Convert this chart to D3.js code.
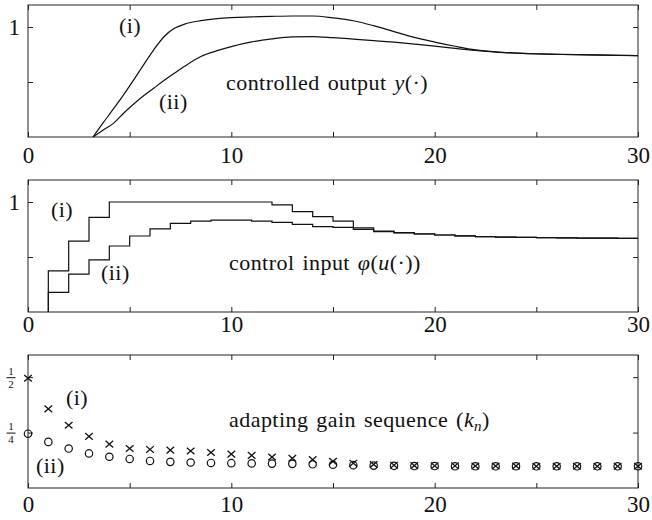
<!DOCTYPE html>
<html lang="en">
<head>
<meta charset="UTF-8">
<title>Adaptive control: output, input and gain sequence</title>
<script src="https://d3js.org/d3.v7.min.js"></script>
<style>
  body { margin: 0; background: #fff; }
  svg text { font-family: "Liberation Serif", "Times New Roman", serif; fill: #111; }
  .tick line, .frame { stroke: #222; }
  .domain { display: none; }
  .note { letter-spacing: 0.45px; word-spacing: 2px; }
</style>
</head>
<body>
<svg id="chart" width="652" height="520"></svg>
<script>
// controlled output y(.) , sampled along t
const outT   = [3.2, 3.7, 4.2, 4.7, 5.2, 5.7, 6.2, 6.7, 7.2, 7.7, 8.5, 9.3, 10, 11, 12, 13, 14, 15, 16, 17, 18, 19, 20, 21, 22, 23, 24, 25, 26, 27, 28, 29, 30];
const outI   = [0, 0.13, 0.255, 0.383, 0.52, 0.66, 0.797, 0.914, 0.988, 1.026, 1.058, 1.077, 1.086, 1.092, 1.097, 1.1, 1.1, 1.083, 1.057, 1.012, 0.958, 0.905, 0.863, 0.825, 0.792, 0.773, 0.763, 0.757, 0.752, 0.749, 0.746, 0.743, 0.74];
const outII  = [0, 0.063, 0.124, 0.216, 0.30, 0.377, 0.446, 0.515, 0.58, 0.643, 0.732, 0.785, 0.822, 0.864, 0.892, 0.91, 0.913, 0.903, 0.89, 0.876, 0.862, 0.845, 0.827, 0.806, 0.787, 0.772, 0.763, 0.756, 0.751, 0.748, 0.745, 0.742, 0.74];

// control input phi(u(.)), value held on [n, n+1), n = 1..29
const inI  = [0.373, 0.645, 0.861, 1.0, 1.0, 1.0, 1.0, 1.0, 1.0, 1.0, 1.0, 0.973, 0.912, 0.867, 0.827, 0.765, 0.735, 0.722, 0.71, 0.70, 0.692, 0.686, 0.681, 0.678, 0.676, 0.674, 0.672, 0.671, 0.67];
const inII = [0.179, 0.345, 0.473, 0.60, 0.691, 0.755, 0.806, 0.827, 0.836, 0.836, 0.827, 0.815, 0.797, 0.776, 0.77, 0.752, 0.73, 0.72, 0.709, 0.70, 0.692, 0.686, 0.681, 0.678, 0.676, 0.674, 0.672, 0.671, 0.67];

// adapting gain sequence k_n, n = 0..30
const gainI  = [0.495, 0.357, 0.283, 0.233, 0.198, 0.178, 0.174, 0.171, 0.167, 0.16, 0.153, 0.147, 0.14, 0.134, 0.128, 0.12, 0.112, 0.106, 0.103, 0.101, 0.1, 0.1, 0.099, 0.099, 0.099, 0.098, 0.098, 0.098, 0.098, 0.098, 0.098];
const gainII = [0.245, 0.208, 0.178, 0.156, 0.141, 0.131, 0.122, 0.118, 0.115, 0.113, 0.112, 0.111, 0.11, 0.109, 0.107, 0.105, 0.103, 0.101, 0.1, 0.099, 0.099, 0.098, 0.098, 0.098, 0.098, 0.098, 0.098, 0.098, 0.098, 0.098, 0.098];

const xTicks = [0, 5, 10, 15, 20, 25, 30];
const xLabels = [0, 10, 20, 30];

const svg = d3.select("#chart");
const x = d3.scaleLinear().domain([0, 30]).range([28, 638]);

// one boxed panel with inward ticks on all four sides
function panel(y, yTicks, yLabel, xPad) {
  const g = svg.append("g");
  const [y0, y1] = y.range();
  g.append("rect").attr("class", "frame")
    .attr("x", x(0)).attr("y", y1)
    .attr("width", x(30) - x(0)).attr("height", y0 - y1)
    .attr("fill", "none").attr("stroke-width", 1);

  g.append("g").attr("transform", `translate(0,${y0})`)
    .call(d3.axisBottom(x).tickValues(xTicks).tickSizeInner(-5).tickSizeOuter(0).tickPadding(xPad)
      .tickFormat(d => xLabels.includes(d) ? d : ""));
  g.append("g").attr("transform", `translate(0,${y1})`)
    .call(d3.axisTop(x).tickValues(xTicks).tickSizeInner(-5).tickSizeOuter(0).tickFormat(""));
  g.append("g").attr("transform", `translate(${x(0)},0)`)
    .call(d3.axisLeft(y).tickValues(yTicks).tickSizeInner(-5).tickSizeOuter(0).tickPadding(8).tickFormat(yLabel));
  g.append("g").attr("transform", `translate(${x(30)},0)`)
    .call(d3.axisRight(y).tickValues(yTicks).tickSizeInner(-5).tickSizeOuter(0).tickFormat(""));

  g.selectAll(".tick text").attr("font-size", 23);
  return g;
}

function label(g, px, py, parts) {
  const t = g.append("text").attr("class", "note").attr("x", px).attr("y", py).attr("font-size", 22);
  parts.forEach(p => {
    const s = t.append("tspan").text(p.t);
    if (p.i) s.attr("font-style", "italic");
    if (p.sub) s.attr("font-size", 15).attr("dy", 4);
    if (p.up) s.attr("dy", -4);
  });
  return t;
}

const lineStyle = sel => sel.attr("fill", "none").attr("stroke", "#111").attr("stroke-width", 1.2);

// ---- top: controlled output
const y1 = d3.scaleLinear().domain([0, 1.2]).range([137, 5]);
const g1 = panel(y1, [0.5, 1], d => d === 1 ? "1" : "", 10);
const outLine = d3.line().x((d, i) => x(outT[i])).y(d => y1(d)).curve(d3.curveMonotoneX);
g1.append("path").datum(outI).attr("d", outLine).call(lineStyle);
g1.append("path").datum(outII).attr("d", outLine).call(lineStyle);
label(g1, 119, 33, [{t: "(i)"}]);
label(g1, 159, 109, [{t: "(ii)"}]);
label(g1, 226, 90, [{t: "controlled output "}, {t: "y", i: true}, {t: "(·)"}]);

// ---- middle: control input (piecewise constant)
const y2 = d3.scaleLinear().domain([0, 1.2]).range([312, 180]);
const g2 = panel(y2, [0.5, 1], d => d === 1 ? "1" : "", 4);
function steps(vals) {
  const pts = [[1, 0]];
  vals.forEach((v, i) => pts.push([i + 1, v]));
  pts.push([30, vals[vals.length - 1]]);
  return pts;
}
const stepLine = d3.line().x(d => x(d[0])).y(d => y2(d[1])).curve(d3.curveStepAfter);
g2.append("path").datum(steps(inI)).attr("d", stepLine).call(lineStyle);
g2.append("path").datum(steps(inII)).attr("d", stepLine).call(lineStyle);
label(g2, 51, 217, [{t: "(i)"}]);
label(g2, 101, 280, [{t: "(ii)"}]);
label(g2, 229, 270, [{t: "control input "}, {t: "φ", i: true}, {t: "("}, {t: "u", i: true}, {t: "(·))"}]);

// ---- bottom: adapting gain sequence
const y3 = d3.scaleLinear().domain([0, 0.6]).range([488, 355]);
const g3 = panel(y3, [0.25, 0.5], () => "", 8);
// fraction tick labels 1/2 and 1/4
[[0.5, "2"], [0.25, "4"]].forEach(([v, den]) => {
  const fy = y3(v);
  g3.append("text").attr("x", 11).attr("y", fy - 2.5).attr("text-anchor", "middle").attr("font-size", 11).text("1");
  g3.append("line").attr("x1", 6.5).attr("x2", 15.5).attr("y1", fy + 0.5).attr("y2", fy + 0.5).attr("stroke", "#111").attr("stroke-width", 1);
  g3.append("text").attr("x", 11).attr("y", fy + 10.5).attr("text-anchor", "middle").attr("font-size", 11).text(den);
});
g3.selectAll(".cross").data(gainI).join("path").attr("class", "cross")
  .attr("transform", (d, i) => `translate(${x(i)},${y3(d)})`)
  .attr("d", "M-3.8,-3.3L3.8,3.3M-3.8,3.3L3.8,-3.3")
  .attr("fill", "none").attr("stroke", "#111").attr("stroke-width", 1.3);
g3.selectAll(".ring").data(gainII).join("circle").attr("class", "ring")
  .attr("cx", (d, i) => x(i)).attr("cy", d => y3(d)).attr("r", 3.7)
  .attr("fill", "none").attr("stroke", "#111").attr("stroke-width", 1.2);
label(g3, 66, 405, [{t: "(i)"}]);
label(g3, 36, 473, [{t: "(ii)"}]);
label(g3, 229, 427, [{t: "adapting gain sequence ("}, {t: "k", i: true}, {t: "n", i: true, sub: true}, {t: ")", up: true}]);
</script>
</body>
</html>
